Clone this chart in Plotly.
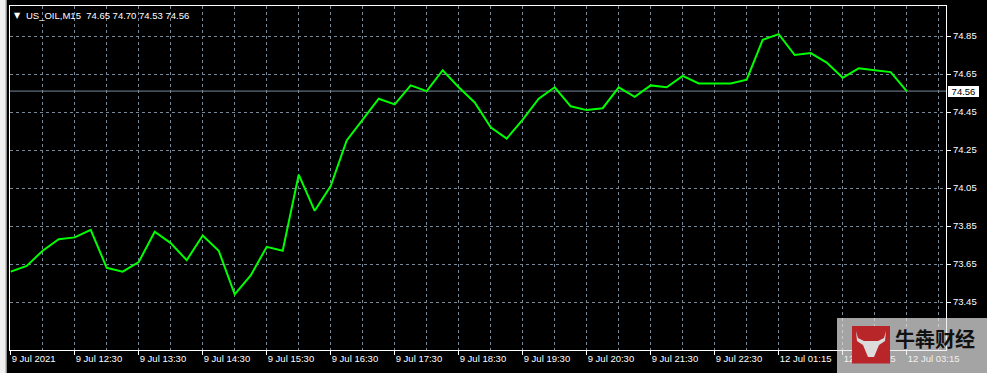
import plotly.graph_objects as go

# ---- data ----
bar_index = list(range(57))
close_prices = [
    73.61, 73.64, 73.72, 73.78, 73.79, 73.83, 73.63, 73.61, 73.66, 73.82,
    73.76, 73.67, 73.80, 73.72, 73.49, 73.59, 73.74, 73.72, 74.12, 73.93,
    74.06, 74.30, 74.41, 74.52, 74.49, 74.59, 74.56, 74.67, 74.58, 74.50,
    74.37, 74.31, 74.41, 74.52, 74.58, 74.48, 74.46, 74.47, 74.58, 74.53,
    74.59, 74.58, 74.64, 74.60, 74.60, 74.60, 74.62, 74.83, 74.86, 74.75,
    74.76, 74.71, 74.63, 74.68, 74.67, 74.66, 74.56,
]
time_tick_index = list(range(0, 57, 4))
time_tick_labels = [
    "9 Jul 2021", "9 Jul 12:30", "9 Jul 13:30", "9 Jul 14:30", "9 Jul 15:30",
    "9 Jul 16:30", "9 Jul 17:30", "9 Jul 18:30", "9 Jul 19:30", "9 Jul 20:30",
    "9 Jul 21:30", "9 Jul 22:30", "12 Jul 01:15", "12 Jul 02:15", "12 Jul 03:15",
]
price_ticks = [73.45, 73.65, 73.85, 74.05, 74.25, 74.45, 74.65, 74.85]
symbol = "US_OIL,M15"
last_ohlc = [74.65, 74.70, 74.53, 74.56]
current_price = 74.56
watermark = "牛犇财经"

# ---- geometry ----
W, H = 987, 373
L, R, T, B = 10, 41, 6, 23
PW, PH = W - L - R, H - T - B


def px(x):
    return (x - L) / PW


def py(y):
    return (H - B - y) / PH


FONT = "Liberation Sans, Arial, sans-serif"
FS = 9.5
GRID = "#778899"

fig = go.Figure()
fig.add_trace(go.Scatter(
    x=bar_index, y=close_prices, mode="lines",
    line=dict(color="#00ff00", width=2), hoverinfo="skip", showlegend=False,
))

axis_common = dict(
    showgrid=True, gridcolor=GRID, gridwidth=1, griddash="3px,3px",
    showline=True, linecolor="white", linewidth=1, mirror=True,
    zeroline=False, ticks="outside", ticklen=4, tickcolor="white",
    tickfont=dict(color="white", size=FS, family=FONT),
    automargin=False, tickangle=0,
)

fig.update_layout(
    width=W, height=H,
    margin=dict(l=L, r=R, t=T, b=B, pad=0, autoexpand=False),
    paper_bgcolor="black", plot_bgcolor="black",
    showlegend=False,
    xaxis=dict(
        range=[-0.04375, 58.456], tickmode="array",
        tickvals=time_tick_index, ticktext=time_tick_labels,
        ticklabelposition="outside right",
        minor=dict(tickmode="linear", tick0=0, dtick=2, showgrid=True,
                   gridcolor=GRID, griddash="3px,3px", gridwidth=1, ticks=""),
        **axis_common,
    ),
    yaxis=dict(
        range=[73.1974, 75.0079], side="right", tickmode="array",
        tickvals=price_ticks, tickformat=".2f",
        **axis_common,
    ),
)

shapes = [
    # current price line
    dict(type="line", xref="paper", x0=0, x1=1, yref="y",
         y0=current_price, y1=current_price,
         line=dict(color=GRID, width=1), layer="below"),
    # left window strip
    dict(type="rect", xref="paper", yref="paper", x0=px(0), x1=px(6.5),
         y0=py(H), y1=py(0), fillcolor="#f0f0f0", line=dict(width=0), layer="above"),
    dict(type="line", xref="paper", yref="paper", x0=px(6), x1=px(6),
         y0=py(H), y1=py(0), line=dict(color="#a0a0a0", width=1), layer="above"),
    # watermark overlay
    dict(type="rect", xref="paper", yref="paper", x0=px(837), x1=px(W),
         y0=py(H), y1=py(318), fillcolor="rgba(234,234,234,0.7)",
         line=dict(width=0), layer="above"),
    # red logo
    dict(type="rect", xref="paper", yref="paper", x0=px(852), x1=px(890),
         y0=py(363.5), y1=py(326), fillcolor="#b8262a",
         line=dict(width=0), layer="above"),
]

# bull head silhouette in logo (local coords relative to logo top-left)
ox, oy = 852, 326
pts = [(4, 5), (6, 12), (12, 15), (26, 15), (32, 12), (34, 5), (33, 15),
       (27, 19), (22, 31), (16, 31), (11, 19), (5, 15)]
path = "M " + " L ".join(f"{px(ox + a):.5f},{py(oy + b):.5f}" for a, b in pts) + " Z"
shapes.append(dict(type="path", xref="paper", yref="paper", path=path,
                   fillcolor="#dcdcdc", line=dict(width=0), layer="above"))
fig.update_layout(shapes=shapes)

annotations = [
    dict(xref="paper", yref="paper", x=px(12), y=py(15), xanchor="left",
         yanchor="middle", text="▼", showarrow=False,
         font=dict(color="white", size=8, family="DejaVu Sans")),
    dict(xref="paper", yref="paper", x=px(24), y=py(15), xanchor="left",
         yanchor="middle", showarrow=False,
         text=f"{symbol}  " + " ".join(f"{v:.2f}" for v in last_ohlc),
         font=dict(color="white", size=FS, family=FONT)),
    dict(xref="paper", yref="y", x=px(948), y=current_price, xanchor="left",
         yanchor="middle", showarrow=False, text=f"{current_price:.2f}",
         bgcolor="white", width=29, height=9, borderpad=1, borderwidth=0,
         font=dict(color="black", size=FS, family=FONT)),
    dict(xref="paper", yref="paper", x=px(893), y=py(338), xanchor="left",
         yanchor="middle", showarrow=False, text=f"<b>{watermark}</b>",
         font=dict(color="#111111", size=20, family="Noto Sans CJK SC")),
]
fig.update_layout(annotations=annotations)

fig.write_html("out.html", config={"displayModeBar": False})
